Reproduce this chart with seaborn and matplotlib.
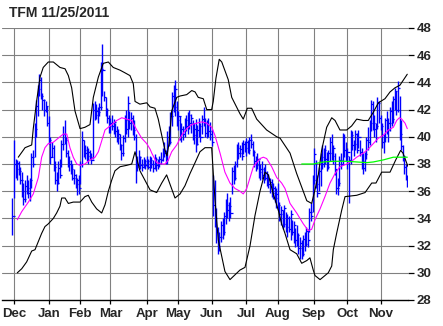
import numpy as np
import pandas as pd
import matplotlib
matplotlib.use("Agg")
import matplotlib.pyplot as plt
import seaborn as sns

title = "TFM 11/25/2011"
months = ["Dec", "Jan", "Feb", "Mar", "Apr", "May", "Jun", "Jul", "Aug", "Sep", "Oct", "Nov"]
month_start = [0, 22, 42, 61, 84, 104, 125, 147, 167, 190, 211, 232]   # trading-day index
price_ticks = [28, 30, 32, 34, 36, 38, 40, 42, 44, 46, 48]
first_bar = -1

low = [32.8, 35.5, 37.0, 36.8, 37.2, 36.5, 35.6, 35.0, 35.2, 35.8, 35.5, 35.3, 36.2, 37.8, 38.5, 40.0, 41.5, 43.0, 42.8, 42.0, 41.5, 41.8, 40.8,
       39.5, 38.0, 38.5, 37.5, 36.5, 36.0, 36.5, 37.0, 37.8, 39.0, 39.5, 38.5, 37.8, 37.5, 37.3, 36.8, 36.5, 36.2, 35.7, 35.8,
       36.5, 37.8, 38.5, 38.4, 38.2, 38.0, 38.3, 38.0, 38.4, 41.2, 41.3, 41.0, 41.5, 42.0, 43.0, 42.6, 41.5, 41.0, 40.3,
       40.3, 40.5, 40.2, 40.0, 39.6, 39.5, 39.0, 38.3, 38.6, 39.6, 40.2, 40.0, 40.6, 40.5, 40.1, 39.8, 36.6, 37.5, 37.8, 37.6, 37.5, 37.7, 37.6,
       37.8, 37.6, 37.5, 37.7, 37.4, 37.6, 37.5, 37.6, 37.8, 38.0, 38.2, 38.5, 38.0, 38.0, 39.3, 39.5, 40.8, 41.8, 41.5, 40.8,
       40.5, 39.8, 39.6, 39.8, 40.0, 40.4, 40.2, 40.6, 40.3, 39.8, 39.5, 38.9, 39.4, 40.0, 39.6, 40.2, 40.8, 40.0, 39.9, 40.0, 39.8,
       39.3, 34.2, 33.4, 32.2, 31.4, 31.6, 32.3, 32.5, 32.8, 33.6, 34.0, 33.8, 34.0, 35.8, 36.5, 36.8, 37.8, 38.4, 38.5, 38.3, 38.7, 38.9,
       38.6, 38.8, 38.7, 39.2, 38.6, 37.8, 37.5, 37.6, 37.0, 36.8, 36.9, 36.6, 36.8, 36.4, 36.2, 35.9, 35.6, 35.4, 35.2, 34.8,
       34.6, 33.8, 33.5, 33.2, 33.4, 33.0, 32.6, 33.0, 32.4, 32.8, 32.2, 31.9, 32.0, 31.4, 31.0, 31.0, 31.2, 31.6, 32.0, 31.9, 33.0, 33.8, 34.5,
       36.5, 36.2, 35.6, 36.0, 36.4, 37.6, 37.8, 38.0, 37.5, 37.6, 38.2, 38.3, 38.0, 37.2, 35.8, 35.7, 36.4, 37.6, 37.9, 38.5, 38.2,
       37.6, 35.1, 38.0, 39.0, 38.6, 39.0, 38.8, 39.2, 38.6, 37.6, 37.3, 37.5, 38.4, 39.0, 39.4, 40.4, 40.5, 40.0, 39.6, 40.6, 41.0,
       40.5, 39.2, 38.8, 39.6, 40.2, 39.6, 40.4, 40.8, 41.0, 42.0, 41.6, 41.8, 39.8, 39.0, 38.2, 37.3, 36.8, 36.3]

high = [35.5, 39.8, 38.4, 38.3, 38.2, 37.8, 37.4, 36.6, 36.8, 37.2, 36.8, 37.0, 38.8, 39.0, 41.0, 42.7, 43.8, 44.6, 44.4, 43.2, 42.8, 42.6, 42.3,
        41.5, 40.0, 39.6, 39.4, 38.2, 37.4, 38.2, 38.4, 39.8, 40.8, 41.2, 40.0, 39.0, 38.6, 38.3, 38.0, 37.6, 37.3, 37.0, 37.2,
        38.2, 40.4, 39.8, 39.4, 39.3, 39.2, 39.0, 38.8, 42.5, 42.6, 42.4, 42.2, 42.5, 45.5, 46.8, 43.4, 42.9, 42.1, 41.6,
        41.4, 41.6, 41.3, 41.0, 40.8, 40.6, 40.2, 39.5, 40.1, 41.6, 42.0, 43.0, 41.9, 41.8, 41.6, 41.2, 40.2, 38.6, 39.0, 38.6, 38.4, 38.5, 38.4,
        38.6, 38.4, 38.6, 38.5, 38.3, 38.7, 38.5, 38.4, 38.6, 38.9, 39.2, 39.6, 39.0, 40.4, 40.8, 41.8, 43.3, 43.8, 44.2, 42.6,
        41.9, 41.5, 41.0, 40.8, 41.4, 41.6, 41.8, 42.0, 41.7, 41.2, 41.0, 41.3, 40.9, 41.4, 41.0, 41.6, 42.2, 41.4, 41.2, 41.4, 41.1,
        40.6, 37.2, 36.8, 34.8, 33.4, 33.0, 33.8, 34.0, 34.5, 35.4, 35.9, 35.2, 35.6, 37.8, 37.9, 38.2, 39.5, 39.6, 39.4, 39.6, 39.8, 39.7,
        39.9, 39.8, 40.0, 40.2, 39.7, 39.0, 38.6, 38.8, 38.3, 38.0, 38.2, 37.8, 38.0, 37.5, 37.3, 37.0, 36.9, 36.6, 36.4, 36.2,
        36.6, 35.2, 34.9, 34.6, 35.0, 34.5, 34.3, 34.2, 34.6, 33.9, 33.8, 33.3, 33.5, 32.9, 32.6, 32.4, 32.8, 33.0, 33.4, 33.2, 34.8, 35.1, 37.2,
        39.2, 38.3, 37.2, 37.8, 38.8, 39.4, 39.2, 39.4, 38.9, 39.0, 40.0, 40.2, 39.4, 38.8, 37.6, 37.0, 38.6, 38.8, 40.3, 40.2, 39.6,
        39.2, 38.6, 40.5, 40.4, 39.8, 40.5, 40.3, 40.5, 39.8, 39.2, 38.8, 38.9, 40.0, 40.7, 41.2, 42.7, 42.6, 41.6, 41.0, 42.9, 42.6,
        41.6, 41.0, 40.2, 41.4, 41.9, 41.4, 42.2, 42.6, 43.0, 43.6, 43.4, 44.1, 43.0, 41.2, 39.4, 38.6, 38.0, 37.2]

close = [34.2, 38.0, 37.6, 38.1, 37.5, 36.8, 36.0, 35.4, 36.4, 36.2, 35.9, 36.8, 38.5, 38.0, 40.6, 42.3, 43.5, 44.2, 43.0, 42.7, 42.0, 42.3, 41.0,
         39.8, 38.5, 39.2, 37.8, 36.8, 36.6, 37.7, 37.2, 39.5, 40.2, 39.8, 38.8, 38.2, 38.0, 37.6, 37.0, 37.2, 36.5, 36.8, 36.2,
         38.0, 39.8, 39.0, 38.8, 38.6, 38.9, 38.5, 38.3, 42.0, 41.6, 41.9, 41.8, 42.2, 45.0, 44.9, 42.9, 42.0, 41.4, 40.8,
         41.0, 40.8, 41.1, 40.4, 39.9, 40.2, 39.4, 38.8, 39.9, 41.2, 40.6, 42.5, 41.0, 41.4, 40.5, 40.0, 37.8, 38.0, 38.5, 37.9, 37.8, 38.2, 37.9,
         38.2, 37.8, 38.3, 38.0, 37.7, 38.4, 37.9, 38.1, 38.4, 38.3, 39.0, 38.8, 38.3, 40.0, 39.6, 41.5, 43.0, 42.2, 43.5, 41.2,
         41.5, 40.2, 40.6, 40.2, 41.2, 40.8, 41.6, 41.0, 41.4, 40.1, 40.6, 39.5, 40.5, 40.8, 40.0, 41.3, 41.0, 40.3, 40.9, 40.4, 40.2,
         39.6, 35.0, 34.0, 33.0, 32.0, 32.6, 33.5, 33.0, 34.2, 35.0, 34.6, 34.9, 34.4, 37.5, 37.0, 38.0, 39.2, 38.8, 39.1, 38.6, 39.5, 39.2,
         39.6, 39.0, 39.8, 39.5, 38.9, 38.2, 37.9, 38.4, 37.4, 37.6, 37.2, 37.4, 37.0, 36.8, 36.5, 36.7, 35.9, 36.2, 35.5, 35.8,
         35.0, 34.3, 34.6, 33.6, 34.8, 33.4, 34.0, 33.2, 34.3, 33.0, 33.5, 32.4, 32.8, 31.8, 32.2, 31.4, 32.5, 32.1, 33.1, 32.4, 34.5, 34.2, 36.8,
         38.7, 36.5, 35.9, 37.5, 38.5, 38.0, 39.0, 38.4, 37.8, 38.8, 39.6, 38.6, 39.2, 37.6, 36.2, 36.6, 38.3, 38.0, 40.0, 39.0, 38.6,
         38.9, 38.3, 40.1, 39.4, 39.5, 40.2, 39.0, 40.0, 38.9, 38.2, 37.7, 38.7, 39.8, 39.6, 41.0, 42.4, 41.0, 40.6, 40.8, 42.5, 41.4,
         40.8, 39.6, 40.0, 41.2, 40.5, 41.0, 41.9, 41.3, 42.8, 43.4, 42.0, 43.6, 40.2, 39.3, 38.6, 37.8, 37.0, 36.4]

# Bollinger bands, moving averages (bar index, value)
upper_x = [2.7, 7.0, 11.2, 12.2, 14.4, 16.5, 18.5, 21.7, 24.9, 29.1, 32.3, 34.4, 36.5, 38.6, 41.8, 44.9, 48.1, 50.2, 53.4, 56.5,
           59.7, 62.8, 67.1, 70.3, 73.4, 75.5, 76.6, 79.7, 84.0, 86.1, 89.2, 91.3, 93.7, 95.6, 96.8, 98.1, 99.8, 103.0, 105.1,
           109.3, 112.5, 114.6, 116.6, 119.8, 122.0, 125.1, 126.1, 127.8, 129.9, 131.5, 135.6, 137.8, 143.0, 145.1, 147.7, 150.4,
           153.6, 159.9, 166.3, 168.4, 174.7, 178.9, 182.1, 185.3, 188.4, 190.5, 192.6, 194.7, 197.9, 201.1, 203.2, 206.3, 210.6,
           213.7, 216.9, 221.1, 224.2, 227.4, 230.6, 234.8, 238.0, 241.1, 244.3, 248.9]
upper_y = [38.5, 39.2, 39.4, 40.6, 42.7, 44.4, 45.1, 45.5, 45.5, 45.1, 45.0, 44.5, 43.6, 41.9, 40.6, 40.7, 40.9, 42.9, 44.4, 45.4,
           45.5, 45.1, 44.9, 44.7, 44.5, 43.9, 42.6, 42.4, 42.5, 42.2, 42.1, 41.3, 40.0, 39.0, 38.6, 39.5, 41.9, 42.9, 43.0,
           43.1, 43.4, 43.3, 42.9, 42.8, 42.0, 42.0, 42.6, 44.3, 45.7, 45.5, 44.2, 42.9, 41.7, 41.3, 42.1, 42.1,
           41.3, 40.5, 40.0, 39.9, 38.8, 37.3, 36.3, 35.3, 35.1, 36.1, 37.2, 39.0, 40.7, 41.4, 41.2, 40.5, 40.5,
           40.8, 41.3, 41.2, 41.2, 41.8, 42.5, 42.8, 43.3, 43.6, 43.8, 44.6]

lower_x = [2.1, 4.9, 8.0, 11.2, 13.3, 15.4, 17.5, 19.6, 21.7, 24.9, 27.0, 29.1, 30.2, 32.3, 34.4, 37.5, 41.8, 44.9, 47.0, 49.2,
           52.3, 55.5, 57.6, 59.7, 61.8, 63.9, 67.1, 71.3, 74.5, 76.6, 79.7, 82.9, 86.1, 90.3, 93.5, 96.6, 99.4, 101.9, 105.1,
           108.2, 111.4, 114.6, 117.7, 120.9, 125.1, 127.2, 129.3, 133.5, 136.7, 143.0, 146.2, 149.4, 152.5, 155.7, 158.9, 161.0,
           164.1, 167.3, 169.4, 171.5, 174.7, 178.9, 182.1, 185.3, 187.3, 189.4, 190.5, 193.7, 195.8, 198.9, 201.1, 202.1, 204.2,
           207.4, 209.5, 216.9, 222.2, 226.4, 229.1, 232.7, 238.0, 241.6, 244.7, 246.2, 249.4]
lower_y = [30.0, 30.3, 30.8, 31.6, 31.7, 32.3, 32.9, 33.4, 33.6, 34.0, 34.4, 34.9, 35.5, 35.5, 35.1, 35.2, 35.2, 35.6, 35.7, 35.2,
           34.7, 34.4, 35.0, 36.0, 36.8, 37.5, 37.8, 37.9, 38.0, 38.9, 37.5, 36.8, 36.1, 35.9, 36.6, 37.2, 36.3, 35.5, 35.8,
           36.4, 37.3, 38.1, 38.9, 39.2, 39.2, 35.4, 32.4, 30.1, 29.5, 30.2, 30.4, 32.0, 34.2, 36.0, 37.4, 37.2,
           35.8, 34.6, 33.6, 32.9, 31.7, 31.4, 30.7, 30.9, 31.1, 30.2, 29.8, 29.5, 29.7, 30.0, 30.5, 31.7, 32.9,
           34.6, 35.6, 35.7, 35.9, 36.6, 36.6, 37.4, 37.4, 38.3, 39.0, 38.8, 37.8]

ma_x = [2.1, 4.9, 9.1, 12.2, 15.4, 17.5, 19.6, 21.7, 24.9, 28.0, 31.2, 33.4, 35.4, 37.5, 39.7, 41.8, 44.9, 48.1, 51.3, 53.4,
        55.5, 57.6, 60.8, 65.0, 68.2, 71.3, 74.5, 77.7, 80.8, 84.0, 86.1, 87.2, 90.3, 93.5, 95.6, 97.7, 99.8, 103.0, 106.1,
        109.3, 112.5, 115.6, 118.8, 122.0, 125.1, 127.2, 130.4, 133.5, 136.7, 139.9, 143.0, 145.1, 147.3, 149.4, 151.5, 153.6,
        155.7, 157.8, 159.9, 163.1, 166.3, 169.4, 171.5, 174.7, 178.9, 183.1, 186.3, 188.4, 190.5, 193.7, 196.8, 200.0, 203.2,
        206.3, 210.6, 213.7, 216.9, 221.1, 224.2, 227.4, 230.6, 233.7, 236.9, 240.1, 242.2, 243.9, 245.4, 247.5, 248.9]
ma_y = [33.9, 34.5, 35.2, 35.8, 37.0, 38.5, 39.2, 39.5, 39.6, 39.9, 40.2, 40.2, 39.2, 38.5, 38.0, 37.9, 38.0, 38.3, 38.5, 38.9,
        39.7, 40.5, 40.8, 41.2, 41.4, 41.3, 41.2, 40.5, 39.9, 39.5, 39.1, 38.8, 38.1, 38.0, 38.0, 38.3, 38.9, 39.4, 40.1,
        40.6, 40.9, 41.0, 41.1, 41.0, 40.7, 40.1, 38.8, 37.4, 36.6, 36.2, 36.0, 35.8, 36.2, 37.0, 37.8, 38.1,
        38.4, 38.5, 38.4, 37.8, 37.0, 36.6, 36.2, 35.1, 34.4, 33.6, 33.1, 33.2, 33.9, 34.7, 35.6, 36.6, 37.3,
        37.8, 38.0, 38.2, 38.5, 38.8, 39.1, 39.5, 39.9, 40.1, 40.5, 40.7, 41.2, 41.4, 41.3, 41.0, 40.6]

long_ma_x = [182.1, 189.4, 195.8, 202.1, 210.6, 216.9, 223.2, 227.4, 233.7, 240.1, 244.3, 248.9]
long_ma_y = [38.0, 38.0, 38.15, 38.2, 38.2, 38.15, 38.1, 38.15, 38.3, 38.5, 38.5, 38.5]

n = len(close)
assert len(low) == n and len(high) == n, (len(low), len(high), n)
bars = pd.DataFrame({"i": np.arange(first_bar, first_bar + n), "low": low, "high": high, "close": close})

sns.set_style("white")
plt.rcParams["font.family"] = ["Liberation Sans", "DejaVu Sans"]

W, H = 443, 326
fig = plt.figure(figsize=(W / 100, H / 100), dpi=100)
ax = fig.add_axes([2 / W, 26 / H, 406 / W, 272 / H])

x_left = (2 - 14) / 1.58
x_right = (408 - 14) / 1.58
ax.set_xlim(x_left, x_right)
ax.set_ylim(28, 48)

# grid
for v in price_ticks[1:]:
    ax.axhline(v, color="#808080", lw=0.8, zorder=0)
for m in month_start:
    ax.axvline(m, color="#808080", lw=0.8, zorder=0)

# bars
ax.vlines(bars["i"], bars["low"], bars["high"], colors="#0000ff", linewidth=1.0, zorder=3)
ax.hlines(bars["close"], bars["i"], bars["i"] + 1.4, colors="#0000ff", linewidth=0.9, zorder=3)

# lines
line_kw = dict(ax=ax, sort=False, estimator=None, zorder=4)
sns.lineplot(x=upper_x, y=upper_y, color="black", linewidth=0.8, **line_kw)
sns.lineplot(x=lower_x, y=lower_y, color="black", linewidth=0.8, **line_kw)
sns.lineplot(x=ma_x, y=ma_y, color="#ff00ff", linewidth=0.8, **line_kw)
sns.lineplot(x=long_ma_x, y=long_ma_y, color="#00ff00", linewidth=0.9, **line_kw)

for s in ["left", "top", "right"]:
    ax.spines[s].set_visible(False)
ax.spines["bottom"].set_color("black")
ax.spines["bottom"].set_linewidth(1.0)

ax.yaxis.tick_right()
ax.set_yticks(price_ticks)
ax.set_yticklabels([str(t) for t in price_ticks], fontsize=9.5, fontweight="bold")
ax.tick_params(axis="y", right=True, left=False, length=4, width=0.9, color="black", pad=2)

ax.set_xticks(month_start)
ax.set_xticklabels(months, fontsize=9.5, fontweight="bold")
ax.tick_params(axis="x", bottom=True, direction="out", length=3, width=0.9, color="black", pad=3)
ax.set_xlabel("")
ax.set_ylabel("")

fig.text(9 / W, 1 - 6 / H, title, fontsize=10, fontweight="bold", ha="left", va="top")

fig.savefig("out.png", dpi=100)
